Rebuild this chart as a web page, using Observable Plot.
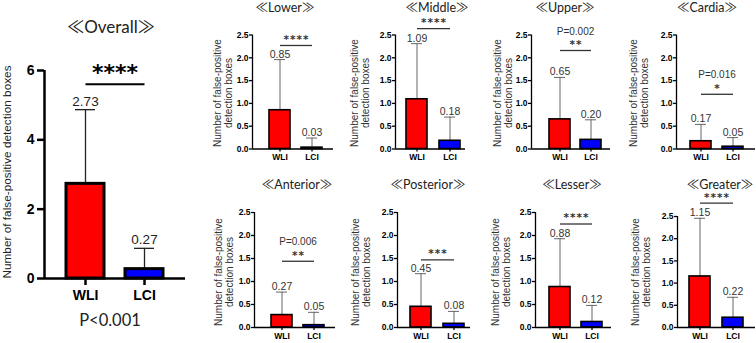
<!DOCTYPE html>
<html><head><meta charset="utf-8">
<script src="https://cdn.jsdelivr.net/npm/d3@7"></script>
<script src="https://cdn.jsdelivr.net/npm/@observablehq/plot@0.6"></script>
<style>
body{margin:0;background:#fff;}
#root{position:relative;width:756px;height:343px;overflow:hidden;background:#fff;}
.t{position:absolute;white-space:nowrap;transform:translate(-50%,-50%);font-family:Lato,"Noto Sans CJK SC",sans-serif;color:#222;line-height:1;}
.yl{position:absolute;white-space:nowrap;text-align:center;transform:translate(-50%,-50%) rotate(-90deg);font-family:"Liberation Sans",Arial,sans-serif;color:#333;}
</style></head>
<body><div id="root"></div>
<script>
// ---------- data ----------
const groups = ["WLI", "LCI"];
const groupColors = ["#ff0000", "#0000ff"];
const panels = ["Lower","Middle","Upper","Cardia","Anterior","Posterior","Lesser","Greater"];
const wliMean = [0.85,1.09,0.65,0.17,0.27,0.45,0.88,1.15];
const wliSD   = [1.11,1.22,0.92,0.37,0.50,0.72,1.05,1.31];
const lciMean = [0.03,0.18,0.20,0.05,0.05,0.08,0.12,0.22];
const lciSD   = [0.21,0.52,0.44,0.20,0.28,0.27,0.36,0.46];
const sigStars = ["****","****","**","*","**","***","****","****"];
const pLabels  = ["","","P=0.002","P=0.016","P=0.006","","",""];
const sigLevel = [2.27,2.64,2.16,1.20,1.44,1.47,2.25,2.80];
const smallTicks = [0,0.5,1,1.5,2,2.5];
const overallMean = [2.73, 0.27];
const overallSD = [2.14, 0.60];
const overallTicks = [0,2,4,6];
const overallStars = "****";
const overallP = "P<0.001";
const overallSigLevel = 5.6;
const yTitle1 = "Number of false-positive";
const yTitle2 = "detection boxes";

// ---------- layout ----------
const top1 = {top:0, h:170, yTop:34.5, y0:148.5, ty:8, ylY:93};
const top2 = {top:170, h:173, yTop:212, y0:327, ty:184.5, ylY:272};
const smallLayout = [
  {...top1, left:195, w:145, axisX:252, wliL:269, lciL:301, endX:333, tx:285, ylX:217},
  {...top1, left:340, w:135, axisX:395, wliL:406, lciL:439, endX:465, tx:437, ylX:354},
  {...top1, left:475, w:137, axisX:531, wliL:549, lciL:580, endX:610, tx:565, ylX:497},
  {...top1, left:612, w:144, axisX:676, wliL:690, lciL:722, endX:755, tx:707, ylX:633},
  {...top2, left:195, w:145, axisX:254, wliL:271, lciL:303, endX:335, tx:297, ylX:218},
  {...top2, left:340, w:135, axisX:397, wliL:410, lciL:443, endX:470, tx:428, ylX:355},
  {...top2, left:475, w:137, axisX:535, wliL:549, lciL:581, endX:611, tx:572, ylX:495},
  {...top2, left:612, w:144, axisX:677, wliL:689, lciL:722, endX:755, tx:720, ylX:635, yTop:216},
];
const overallLayout = {left:0, top:0, w:195, h:343, axisX:44, wliL:66, lciL:125, endX:185, yTop:70, y0:278};

const root = document.getElementById("root");
function addText(txt, cx, cy, css, cls="t") {
  const d = document.createElement("div");
  d.className = cls;
  d.style.cssText = `left:${cx}px;top:${cy}px;${css}`;
  d.innerHTML = txt;
  root.appendChild(d);
}
function bandOpts(L, barW) {
  const step = L.lciL - L.wliL;
  const pi = 1 - barW / step;
  const total = L.endX - L.axisX;
  const leftover = total - step * (2 - pi);
  return {paddingInner: pi, paddingOuter: leftover / step / 2, align: (L.wliL - L.axisX) / leftover, round: false};
}
function svgStyle(L) {
  return `position:absolute;left:${L.left}px;top:${L.top}px;overflow:visible;background:transparent;max-width:none;color:#000;font-family:'Liberation Sans',Arial,sans-serif;`;
}
const thin = s => s.split("").join("\u200A");

// ---------- Overall ----------
{
  const L = overallLayout;
  const data = groups.map((g, i) => ({g, m: overallMean[i], sd: overallSD[i]}));
  const fw = L.w - (L.axisX - L.left) - (L.left + L.w - L.endX);
  const chart = Plot.plot({
    width: L.w, height: L.h,
    marginLeft: L.axisX - L.left, marginRight: L.left + L.w - L.endX,
    marginTop: L.yTop - L.top, marginBottom: L.top + L.h - L.y0,
    x: {domain: groups, ...bandOpts(L, 38), label: null},
    y: {domain: [0, 6], label: null},
    color: {domain: groups, range: groupColors},
    style: svgStyle(L),
    marks: [
      Plot.axisY(overallTicks, {tickSize: 7, tickPadding: 3, strokeWidth: 2.5, fontSize: 14, fontWeight: "bold", label: null}),
      Plot.axisX({tickSize: 7, tickPadding: 5, strokeWidth: 2.5, fontSize: 14, fontWeight: "bold", label: null}),
      Plot.ruleX(data, {x: "g", y1: "m", y2: d => d.m + d.sd, stroke: "#222", strokeWidth: 1.3}),
      Plot.tickY(data, {x: "g", y: d => d.m + d.sd, stroke: "#222", strokeWidth: 1.3, insetLeft: 9, insetRight: 9}),
      Plot.barY(data, {x: "g", y: "m", fill: "g", stroke: "#000", strokeWidth: 3}),
      Plot.text(data, {x: "g", y: d => d.m + d.sd, text: d => d.m.toFixed(2), lineAnchor: "bottom", dy: -4, fontSize: 13.5, fill: "#222"}),
      Plot.ruleY([0], {stroke: "#000", strokeWidth: 2.5}),
      Plot.ruleX([0], {x: null, dx: -fw / 2, stroke: "#000", strokeWidth: 2.5}),
      Plot.link([overallSigLevel], {x1: () => groups[0], x2: () => groups[1], y1: d => d, y2: d => d, stroke: "#000", strokeWidth: 2}),
      Plot.text([overallStars], {x: () => groups[0], y: () => overallSigLevel, dx: (L.lciL - L.wliL) / 2, dy: -11, text: d => d, fontSize: 22, fontWeight: "bold", fontFamily: "DejaVu Sans", fill: "#000"})
    ]
  });
  root.appendChild(chart);
  addText("≪Overall≫", 111, 26, "font-size:17px;");
  addText(overallP, 110, 320, "font-size:16.5px;");
  addText(yTitle1 + " " + yTitle2, 7.5, 172, "font-size:11.8px;line-height:1;color:#222;", "yl");
}

// ---------- small panels ----------
panels.forEach((name, i) => {
  const L = smallLayout[i];
  const data = [
    {g: groups[0], m: wliMean[i], sd: wliSD[i]},
    {g: groups[1], m: lciMean[i], sd: lciSD[i]}
  ];
  const fw = L.w - (L.axisX - L.left) - (L.left + L.w - L.endX);
  const half = (L.lciL - L.wliL) / 2;
  const marks = [
    Plot.axisY(smallTicks, {tickSize: 3, tickPadding: 1, strokeWidth: 1.3, fontSize: 8.5, fontWeight: "bold", tickFormat: d3.format(".1f"), label: null}),
    Plot.axisX({tickSize: 3, tickPadding: 2, strokeWidth: 1.3, fontSize: 8.5, fontWeight: "bold", label: null}),
    Plot.ruleX(data, {x: "g", y1: "m", y2: d => d.m + d.sd, stroke: "#666", strokeWidth: 1}),
    Plot.tickY(data, {x: "g", y: d => d.m + d.sd, stroke: "#666", strokeWidth: 1, insetLeft: 5, insetRight: 5}),
    Plot.barY(data, {x: "g", y: "m", fill: "g", stroke: "#000", strokeWidth: 1.6}),
    Plot.text(data, {x: "g", y: d => d.m + d.sd, text: d => d.m.toFixed(2), lineAnchor: "bottom", dy: -2, fontSize: 10.5, fill: "#333"}),
    Plot.ruleY([0], {stroke: "#000", strokeWidth: 1.3}),
    Plot.ruleX([0], {x: null, dx: -fw / 2, stroke: "#000", strokeWidth: 1.3}),
    Plot.link([sigLevel[i]], {x1: () => groups[0], x2: () => groups[1], y1: d => d, y2: d => d, stroke: "#333", strokeWidth: 1.3}),
    Plot.text([sigStars[i]], {x: () => groups[0], y: () => sigLevel[i], dx: half, dy: -6, text: d => thin(d), fontSize: 10.5, fontWeight: "bold", fontFamily: "DejaVu Sans", fill: "#333"})
  ];
  if (pLabels[i]) marks.push(Plot.text([pLabels[i]], {x: () => groups[0], y: () => sigLevel[i], dx: half, dy: -19, text: d => d, fontSize: 10, fill: "#333"}));
  const chart = Plot.plot({
    width: L.w, height: L.h,
    marginLeft: L.axisX - L.left, marginRight: L.left + L.w - L.endX,
    marginTop: L.yTop - L.top, marginBottom: L.top + L.h - L.y0,
    x: {domain: groups, ...bandOpts(L, 21), label: null},
    y: {domain: [0, 2.5], label: null},
    color: {domain: groups, range: groupColors},
    style: svgStyle(L),
    marks
  });
  root.appendChild(chart);
  addText(`≪${name}≫`, L.tx, L.ty, "font-size:12.5px;");
  addText(`${yTitle1}<br>${yTitle2}`, L.ylX + 5.5, L.ylY, "font-size:10px;line-height:11px;", "yl");
});
</script></body></html>
